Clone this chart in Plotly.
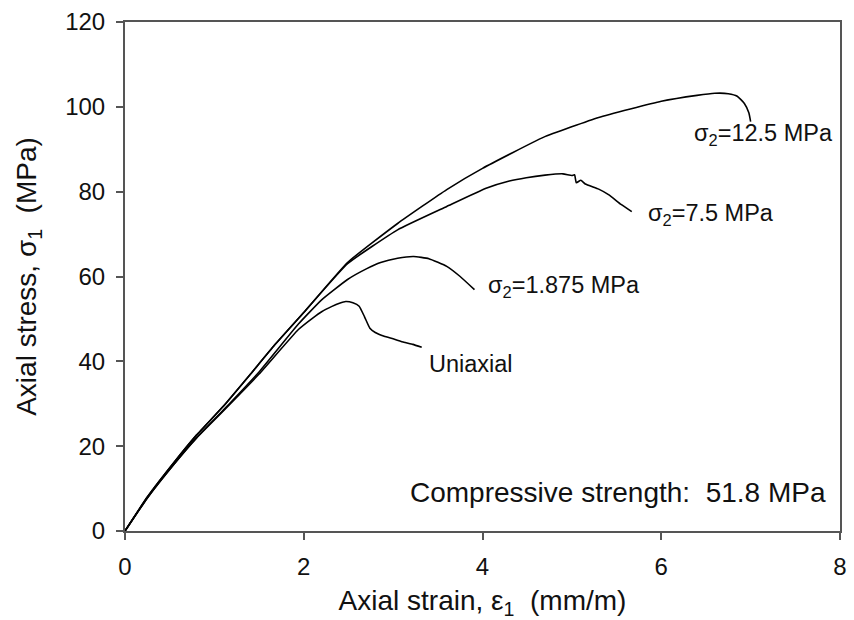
import plotly.graph_objects as go

# ---- data ----
x_125 = [0, 0.25, 0.55, 0.8, 1.1, 1.4, 1.66, 2.0, 2.49, 3.05, 3.6, 4.0, 4.68, 5.3, 6.0, 6.4, 6.6, 6.75, 6.85, 6.93, 6.98, 7.0]
y_125 = [0, 8.0, 16.2, 22.6, 29.4, 36.9, 43.5, 51.5, 63.3, 72.5, 80.5, 85.5, 92.8, 97.5, 101.3, 102.7, 103.2, 103.1, 102.5, 100.8, 98.6, 96.5]

x_75 = [0, 0.25, 0.55, 0.8, 1.1, 1.4, 1.66, 2.0, 2.49, 3.05, 3.6, 4.04, 4.3, 4.49, 4.7, 4.9, 5.0, 5.03, 5.05, 5.1, 5.15, 5.3, 5.41, 5.55, 5.67]
y_75 = [0, 8.0, 16.2, 22.6, 29.4, 36.9, 43.5, 51.5, 63.0, 71.0, 76.5, 80.8, 82.5, 83.3, 83.9, 84.2, 83.8, 84.0, 82.1, 82.7, 81.8, 80.6, 79.3, 77.0, 75.3]

x_1875 = [0, 0.25, 0.55, 0.8, 1.1, 1.5, 1.94, 2.2, 2.49, 2.7, 2.86, 3.05, 3.23, 3.4, 3.6, 3.75, 3.91]
y_1875 = [0, 7.8, 15.8, 22.0, 28.5, 37.5, 48.8, 54.5, 59.3, 61.8, 63.3, 64.3, 64.7, 64.2, 62.4, 60.0, 56.9]

x_uni = [0, 0.25, 0.55, 0.8, 1.1, 1.5, 1.94, 2.1, 2.2, 2.31, 2.4, 2.47, 2.55, 2.62, 2.68, 2.74, 2.8, 2.9, 3.0, 3.12, 3.22, 3.32]
y_uni = [0, 7.8, 15.8, 21.9, 28.3, 37.0, 47.5, 50.2, 51.7, 52.9, 53.7, 54.1, 53.8, 53.0, 50.5, 47.8, 46.8, 45.9, 45.3, 44.5, 44.0, 43.3]

labels = ["σ<sub>2</sub>=12.5 MPa", "σ<sub>2</sub>=7.5 MPa", "σ<sub>2</sub>=1.875 MPa", "Uniaxial"]
label_x = [6.34, 5.83, 4.04, 3.38]
label_y = [93.4, 74.6, 57.6, 39.3]

x_ticks = [0, 2, 4, 6, 8]
y_ticks = [0, 20, 40, 60, 80, 100, 120]

FONT = "Liberation Sans, Arial, sans-serif"
TXT = "#111"

fig = go.Figure()
for xs, ys in [(x_125, y_125), (x_75, y_75), (x_1875, y_1875), (x_uni, y_uni)]:
    fig.add_trace(go.Scatter(x=xs, y=ys, mode="lines",
                             line=dict(color="black", width=1.6, shape="spline", smoothing=0.4),
                             showlegend=False, hoverinfo="skip"))

for t, lx, ly in zip(labels, label_x, label_y):
    fig.add_annotation(x=lx, y=ly, text=t, showarrow=False, xanchor="left", yanchor="middle",
                       font=dict(family=FONT, size=23.5, color=TXT))

fig.add_annotation(x=3.17, y=9.0, text="Compressive strength:&nbsp;&nbsp;51.8 MPa", showarrow=False,
                   xanchor="left", yanchor="middle", font=dict(family=FONT, size=28, color=TXT))

axis_common = dict(showgrid=False, zeroline=False, showline=True, linecolor="#555", linewidth=2,
                   mirror=True, ticks="outside", ticklen=7, tickcolor="#555", tickwidth=1.5,
                   tickfont=dict(family=FONT, size=24, color=TXT))

fig.update_xaxes(range=[0, 8], tickvals=x_ticks, ticklabelstandoff=6,
                 title=dict(text="Axial strain, ε<sub>1</sub>&nbsp;&nbsp;(mm/m)",
                            font=dict(family=FONT, size=28, color=TXT), standoff=14),
                 **axis_common)
fig.update_yaxes(range=[0, 120], tickvals=y_ticks, ticklabelstandoff=6,
                 title=dict(text="Axial stress, σ<sub>1</sub>&nbsp;&nbsp;(MPa)",
                            font=dict(family=FONT, size=28, color=TXT), standoff=20),
                 **axis_common)

fig.update_layout(width=854, height=620, margin=dict(l=125, r=7, t=22, b=88),
                  plot_bgcolor="white", paper_bgcolor="white")

fig.write_html("out.html")
